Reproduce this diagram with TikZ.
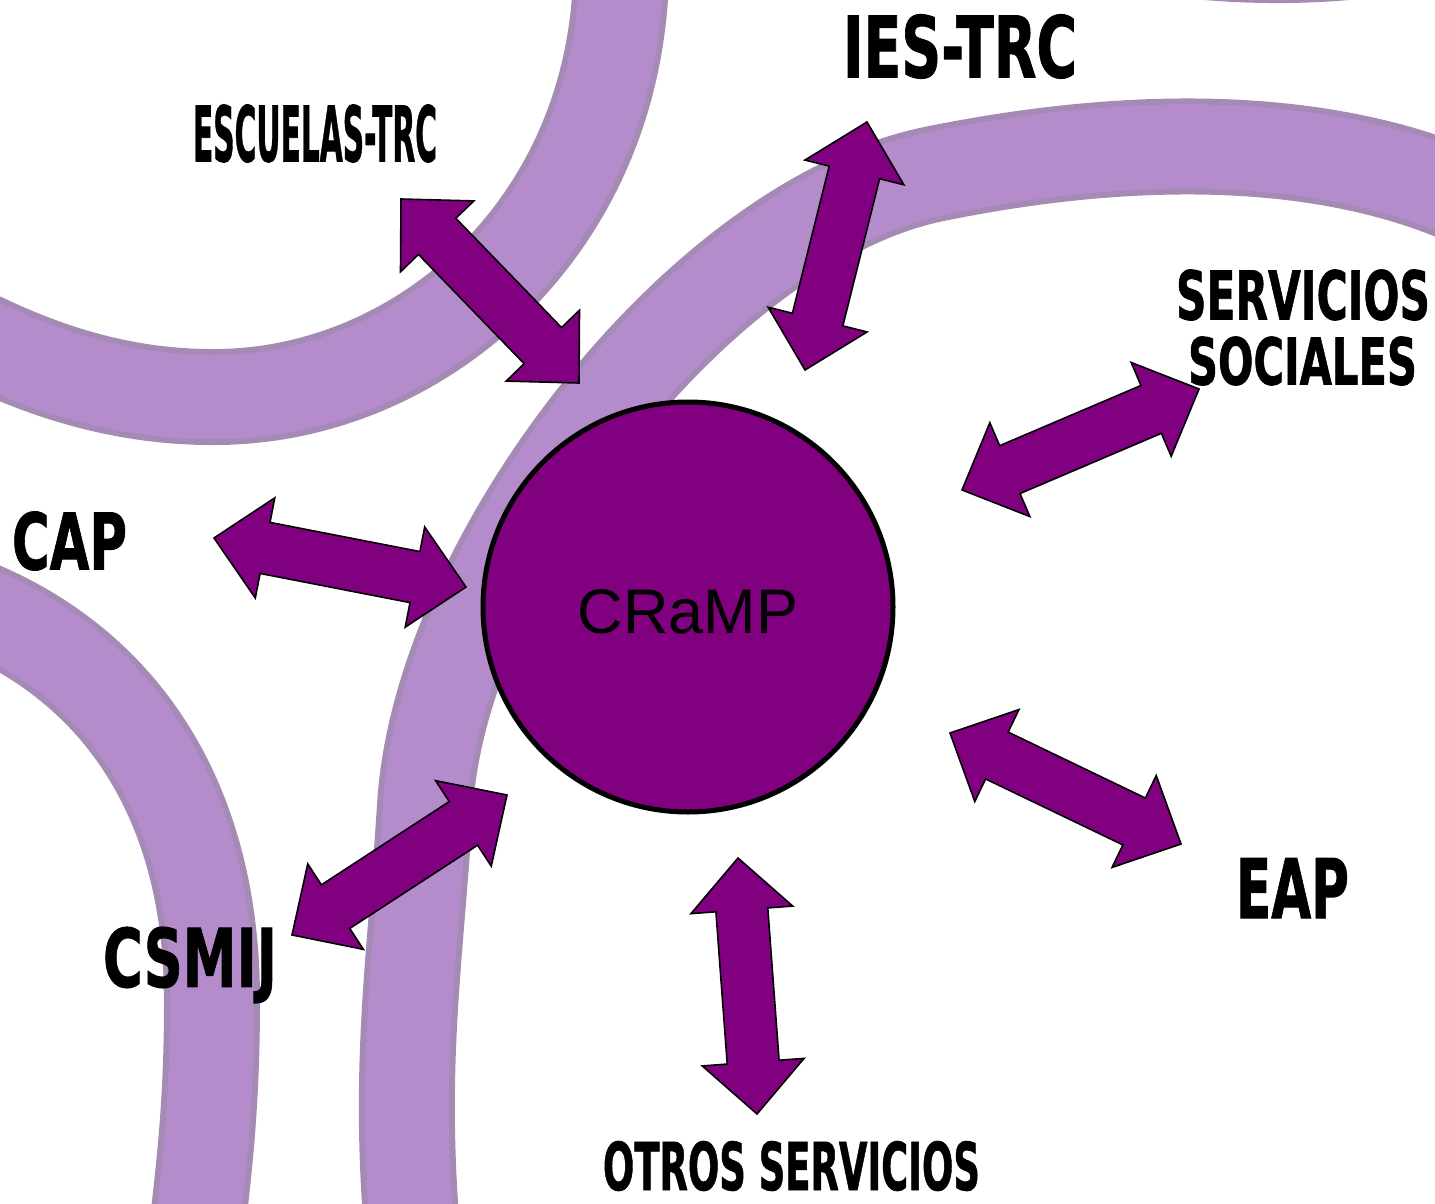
\documentclass[tikz,border=0pt]{standalone}
\usepackage{fontspec}
\usepackage{graphicx}
\usetikzlibrary{calc}
\newfontfamily\labfont{DejaVu Sans}[BoldFeatures={FakeBold=1.2}]
\newfontfamily\cfont{Liberation Sans}
\definecolor{pur}{HTML}{800080}
\definecolor{bandin}{RGB}{181,140,203}
\definecolor{bandout}{RGB}{166,138,182}
\newcommand{\dblarrow}[2]{%
  \draw[arr] (#1)
   -- ($(#1)!26pt!(#2)!25.5pt!90:(#2)$)
   -- ($(#1)!26pt!(#2)!13pt!90:(#2)$)
   -- ($(#2)!26pt!(#1)!13pt!-90:(#1)$)
   -- ($(#2)!26pt!(#1)!25.5pt!-90:(#1)$)
   -- (#2)
   -- ($(#2)!26pt!(#1)!25.5pt!90:(#1)$)
   -- ($(#2)!26pt!(#1)!13pt!90:(#1)$)
   -- ($(#1)!26pt!(#2)!13pt!-90:(#2)$)
   -- ($(#1)!26pt!(#2)!25.5pt!-90:(#2)$)
   -- cycle;}
\newcommand{\lbl}[3]{\resizebox{#1}{#2}{\labfont\bfseries #3}}
\begin{document}
\begin{tikzpicture}[x=0.5pt,y=-0.5pt,
  bandedge/.style={line width=48pt, draw=bandout, line cap=butt},
  bandcore/.style={line width=42pt, draw=bandin, line cap=butt},
  arr/.style={fill=pur, draw=black, line width=0.8pt, line join=miter},
  lab/.style={inner sep=0pt, text=black},
  hub/.style={circle, fill=pur, draw=black, line width=2.5pt, minimum size=205pt, inner sep=0pt,
    font=\cfont\fontsize{31.5pt}{36pt}\selectfont, text=black}]
\useasboundingbox (0,0) rectangle (1435,1204);
\fill[white] (0,0) rectangle (1435,1204);
\begin{scope}
\clip (0,0) rectangle (1435,1204);
\foreach \st in {bandedge,bandcore}{
  % top-left band
  \draw[\st] (621,-20) .. controls (612,230) and (420,395) .. (218,397)
                       .. controls (130,398) and (50,375) .. (-30,335);
  % large band
  \draw[\st] (1460,195) .. controls (1330,140) and (1150,130) .. (934,174)
                        .. controls (700,222) and (440,560) .. (425,806)
                        .. controls (416,954) and (398,1060) .. (412,1230);
  % bottom-left band
  \draw[\st] (-30,605) .. controls (120,665) and (212,800) .. (212,1000)
                       .. controls (212,1100) and (205,1160) .. (197,1230);
  % top-right sliver
  \draw[\st] (1040,-85) .. controls (1150,-40) and (1330,-30) .. (1470,-70);
}
\end{scope}
% arrow tips
\coordinate (a1) at (401,199); \coordinate (b1) at (579,383);
\coordinate (a2) at (867,122); \coordinate (b2) at (805,370);
\coordinate (a3) at (1199,389); \coordinate (b3) at (962,490);
\coordinate (a4) at (214,538); \coordinate (b4) at (466,587);
\coordinate (a5) at (1181,844); \coordinate (b5) at (950,733);
\coordinate (a6) at (757,1114); \coordinate (b6) at (738,858);
\coordinate (a7) at (292,935); \coordinate (b7) at (507,795);
\dblarrow{a1}{b1}
\dblarrow{a2}{b2}
\dblarrow{a3}{b3}
\dblarrow{a4}{b4}
\dblarrow{a5}{b5}
\dblarrow{a6}{b6}
\dblarrow{a7}{b7}
\node[hub] (cramp) at (688,607) {\raisebox{-2.5pt}[\height][\depth]{CRaMP}};
\node[lab] (esc) at (315,133.5) {\lbl{122pt}{28.5pt}{ESCUELAS-TRC}};
\node[lab] (ies) at (960,46.5) {\lbl{117pt}{31.5pt}{IES-TRC}};
\node[lab] (ss1) at (1303,295) {\lbl{127pt}{25pt}{SERVICIOS}};
\node[lab] (ss2) at (1302.5,361) {\lbl{114.5pt}{24pt}{SOCIALES}};
\node[lab] (cap) at (69.5,541) {\lbl{57.5pt}{29pt}{CAP}};
\node[lab] (csm) at (190,965) {\lbl{87pt}{30pt}{CSMIJ}};
\node[lab] (eap) at (1292.5,888) {\lbl{56.5pt}{30pt}{EAP}};
\node[lab] (otr) at (791.5,1166) {\lbl{188.5pt}{24.5pt}{OTROS SERVICIOS}};
\end{tikzpicture}
\end{document}
